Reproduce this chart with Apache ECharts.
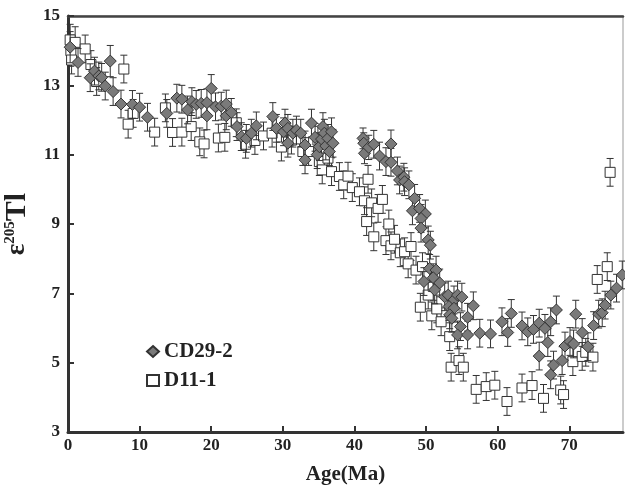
<!DOCTYPE html>
<html>
<head>
<meta charset="utf-8">
<script src="https://cdn.jsdelivr.net/npm/echarts@6/dist/echarts.min.js"></script>
<style>
  html, body { margin: 0; padding: 0; background: #fff; }
  #chart { width: 625px; height: 488px; }
</style>
</head>
<body>
<div id="chart"></div>
<script>
// 数据：[年龄(Ma), ε205Tl, 误差]
var cd29 = [
    [0.3,14.1,0.45],[1.4,13.66,0.4],[3.1,13.22,0.4],[3.7,13.41,0.4],[4.3,13.27,0.4],
    [4.7,13.23,0.4],[5.2,12.98,0.4],[5.9,13.7,0.45],[6.3,12.82,0.4],[7.4,12.46,0.4],
    [9.0,12.45,0.4],[10.0,12.37,0.4],[11.1,12.08,0.4],[13.8,12.19,0.4],[15.2,12.63,0.4],
    [15.9,12.6,0.4],[16.7,12.29,0.4],[17.3,12.53,0.4],[17.9,12.45,0.4],[18.6,12.48,0.4],
    [19.4,12.5,0.4],[19.4,12.12,0.4],[20.0,12.91,0.4],[20.6,12.38,0.4],[21.4,12.4,0.4],
    [22.1,12.46,0.4],[22.1,12.12,0.4],[22.8,12.22,0.4],[23.6,11.81,0.4],[24.2,11.52,0.4],
    [24.9,11.47,0.4],[25.6,11.62,0.4],[26.3,11.83,0.4],[28.6,12.1,0.4],[29.1,11.76,0.4],
    [30.1,11.66,0.4],[30.3,11.91,0.4],[30.7,11.76,0.4],[30.7,11.33,0.4],[31.4,11.62,0.4],
    [31.9,11.71,0.4],[32.5,11.62,0.4],[33.1,11.28,0.4],[33.1,10.85,0.4],[34.0,11.91,0.4],
    [34.5,11.5,0.4],[34.8,11.0,0.4],[35.1,11.23,0.4],[35.4,11.45,0.4],[35.6,11.81,0.4],
    [35.8,11.62,0.4],[36.0,11.25,0.4],[36.3,11.47,0.4],[36.5,11.09,0.4],[36.8,11.66,0.4],
    [37.0,11.33,0.4],
    [41.2,11.47,0.3],[41.3,11.33,0.3],[41.4,11.04,0.3],[42.0,11.21,0.35],[42.7,11.3,0.4],
    [43.5,10.96,0.4],[44.4,10.8,0.4],[45.1,11.31,0.4],[45.1,10.78,0.4],[46.0,10.53,0.4],
    [46.3,10.27,0.4],[46.9,10.35,0.4],[47.0,10.22,0.4],[47.6,10.13,0.4],[48.4,9.74,0.4],
    [48.1,9.38,0.4],[49.1,9.45,0.4],[49.9,9.29,0.4],[49.3,9.16,0.4],[49.3,8.88,0.4],
    [50.3,8.54,0.4],[50.6,8.39,0.4],[50.5,7.72,0.4],[51.4,7.67,0.4],[49.7,7.34,0.4],
    [51.0,7.45,0.4],[51.2,7.1,0.4],[51.9,7.3,0.4],[52.6,6.9,0.4],[53.1,6.95,0.4],
    [53.9,6.81,0.4],[54.4,6.95,0.4],[55.0,6.89,0.4],[53.2,6.62,0.4],[53.9,6.57,0.4],
    [53.3,6.38,0.4],[53.6,6.28,0.4],[54.8,6.04,0.4],[54.4,5.8,0.4],[55.8,5.8,0.4],
    [55.8,6.31,0.4],[56.6,6.64,0.4],[57.5,5.85,0.4],[59.0,5.83,0.4],[60.6,6.18,0.4],
    [61.4,5.87,0.4],[61.9,6.42,0.4],[63.4,6.06,0.4],[64.2,5.89,0.4],[65.0,5.96,0.4],
    [65.8,6.14,0.4],[66.6,5.99,0.4],[67.4,6.18,0.4],[68.2,6.52,0.4],[67.0,5.58,0.4],
    [65.8,5.19,0.4],[67.8,4.93,0.4],[67.4,4.65,0.4],[69.0,5.06,0.4],[69.4,5.48,0.4],
    [70.1,5.61,0.4],[70.6,5.54,0.4],[70.9,6.4,0.4],[71.8,5.87,0.4],[72.6,5.46,0.4],
    [73.4,6.07,0.4],[74.1,6.4,0.4],[74.6,6.44,0.4],[75.0,6.66,0.4],[75.8,6.95,0.4],
    [76.6,7.15,0.4],[77.4,7.53,0.4]
];
var d11 = [
    [0.3,14.31,0.45],[0.4,14.0,0.45],[0.5,13.73,0.4],[1.0,14.24,0.45],[2.4,14.05,0.4],
    [3.2,13.6,0.4],[4.0,13.11,0.4],[7.8,13.47,0.4],[8.4,11.88,0.4],[9.1,12.19,0.4],
    [12.1,11.65,0.4],[13.6,12.35,0.4],[14.6,11.64,0.4],[15.9,11.65,0.4],[17.2,11.81,0.4],
    [18.4,11.37,0.4],[19.0,11.31,0.4],[21.0,11.48,0.4],[21.9,11.5,0.4],[23.5,11.92,0.4],
    [24.8,11.3,0.4],[26.1,11.41,0.4],[27.3,11.54,0.4],[28.5,11.62,0.4],[29.8,11.22,0.4],
    [31.2,11.42,0.4],[32.8,11.09,0.4],[33.6,11.09,0.4],[34.9,11.42,0.4],[35.1,10.8,0.4],
    [35.5,10.56,0.4],[36.3,10.9,0.4],[36.8,10.51,0.4],[37.9,10.37,0.4],[38.5,10.13,0.4],
    [39.1,10.38,0.4],[39.7,10.05,0.4],[40.7,9.93,0.4],[41.4,9.67,0.4],[41.9,10.29,0.4],
    [41.7,9.07,0.4],[42.4,9.61,0.4],[42.7,8.63,0.4],[43.3,9.45,0.4],[43.9,9.71,0.4],
    [44.4,8.52,0.4],[44.8,9.0,0.4],[45.1,8.37,0.4],[45.6,8.56,0.4],[46.4,8.17,0.4],
    [47.0,8.2,0.4],[47.5,7.85,0.4],[47.9,8.35,0.4],[48.6,7.67,0.4],[49.5,7.77,0.4],
    [49.2,6.6,0.4],[50.3,6.95,0.4],[51.0,7.2,0.4],[50.8,6.35,0.4],[51.5,6.55,0.4],
    [52.1,6.18,0.4],[53.3,5.75,0.4],[53.5,4.87,0.4],[54.6,5.06,0.4],[55.2,4.87,0.4],
    [57.0,4.23,0.4],[58.4,4.31,0.4],[59.6,4.35,0.4],[61.3,3.88,0.4],[63.4,4.27,0.4],
    [64.8,4.34,0.4],[66.4,3.97,0.4],[68.8,4.21,0.4],[69.2,4.08,0.4],[70.5,5.03,0.4],
    [71.8,5.18,0.4],[72.3,5.3,0.4],[73.3,5.16,0.4],[73.9,7.4,0.4],[75.3,7.77,0.4],
    [75.7,10.49,0.4]
];
var xTicks = [0, 10, 20, 30, 40, 50, 60, 70];
var yTicks = [3, 5, 7, 9, 11, 13, 15];

var serif = 'Liberation Serif, Times New Roman, serif';

// 误差棒
function errorBar(params, api) {
    var x = api.value(0), y = api.value(1), e = api.value(2);
    var hi = api.coord([x, y + e]);
    var lo = api.coord([x, y - e]);
    var w = 3.5;
    var style = { stroke: '#333', lineWidth: 1, fill: null };
    return {
        type: 'group',
        children: [
            { type: 'line', shape: { x1: hi[0], y1: hi[1], x2: lo[0], y2: lo[1] }, style: style },
            { type: 'line', shape: { x1: hi[0] - w, y1: hi[1], x2: hi[0] + w, y2: hi[1] }, style: style },
            { type: 'line', shape: { x1: lo[0] - w, y1: lo[1], x2: lo[0] + w, y2: lo[1] }, style: style }
        ]
    };
}

var chart = echarts.init(document.getElementById('chart'));
chart.setOption({
    animation: false,
    textStyle: { fontFamily: serif },
    grid: {
        left: 68, top: 16, right: 2, bottom: 56,
        outerBoundsMode: 'none',
        show: true, borderColor: '#999', borderWidth: 1
    },
    legend: {
        orient: 'vertical',
        left: 141, top: 336,
        itemGap: 8,
        itemWidth: 12, itemHeight: 11,
        data: ['CD29-2', 'D11-1'],
        textStyle: { fontFamily: serif, fontWeight: 'bold', fontSize: 21, color: '#222' }
    },
    xAxis: [{
        type: 'value', min: 0, max: 77.5, interval: 10,
        name: 'Age(Ma)', nameLocation: 'middle', nameGap: 32,
        nameTextStyle: { fontFamily: serif, fontWeight: 'bold', fontSize: 21, color: '#222' },
        axisLine: { lineStyle: { color: '#333', width: 3 } },
        axisTick: { inside: true, length: 6, lineStyle: { width: 2, color: '#333' } },
        axisLabel: {
            fontFamily: serif, fontWeight: 'bold', fontSize: 17, color: '#222', margin: 5,
            showMaxLabel: false,
            formatter: function (v) { return xTicks.indexOf(v) >= 0 ? v : ''; }
        },
        splitLine: { show: false }
    }, {
        type: 'value', position: 'top', min: 0, max: 77.5,
        axisLine: { show: true, lineStyle: { color: '#444', width: 2.5 } },
        axisTick: { show: false }, axisLabel: { show: false }, splitLine: { show: false }
    }],
    yAxis: {
        type: 'value', min: 3, max: 15, interval: 2,
        name: '{e|ε}{s|205}{t|Tl}', nameLocation: 'middle', nameGap: 30, nameRotate: 90,
        nameTextStyle: {
            rich: {
                e: { fontFamily: serif, fontWeight: 'bold', fontSize: 27, color: '#222', lineHeight: 28 },
                s: { fontFamily: serif, fontWeight: 'bold', fontSize: 15, color: '#222', verticalAlign: 'top', lineHeight: 15 },
                t: { fontFamily: serif, fontWeight: 'bold', fontSize: 30, color: '#222', lineHeight: 28 }
            }
        },
        axisLine: { lineStyle: { color: '#333', width: 3 } },
        axisTick: { inside: true, length: 6, lineStyle: { width: 2, color: '#333' } },
        axisLabel: {
            fontFamily: serif, fontWeight: 'bold', fontSize: 17, color: '#222', margin: 8,
            formatter: function (v) { return yTicks.indexOf(v) >= 0 ? v : ''; }
        },
        splitLine: { show: false }
    },
    series: [
        {
            name: 'D11-1-err', type: 'custom', renderItem: errorBar,
            data: d11, encode: { x: 0, y: 1 }, z: 2, silent: true
        },
        {
            name: 'D11-1', type: 'scatter', data: d11, symbol: 'rect', symbolSize: 10,
            itemStyle: { color: '#fff', borderColor: '#333', borderWidth: 1, opacity: 1 }, z: 3
        },
        {
            name: 'CD29-2-err', type: 'custom', renderItem: errorBar,
            data: cd29, encode: { x: 0, y: 1 }, z: 4, silent: true
        },
        {
            name: 'CD29-2', type: 'scatter', data: cd29, symbol: 'diamond', symbolSize: 12,
            itemStyle: { color: '#7a7a7a', borderColor: '#333', borderWidth: 1, opacity: 1 }, z: 5
        }
    ]
});
</script>
</body>
</html>
